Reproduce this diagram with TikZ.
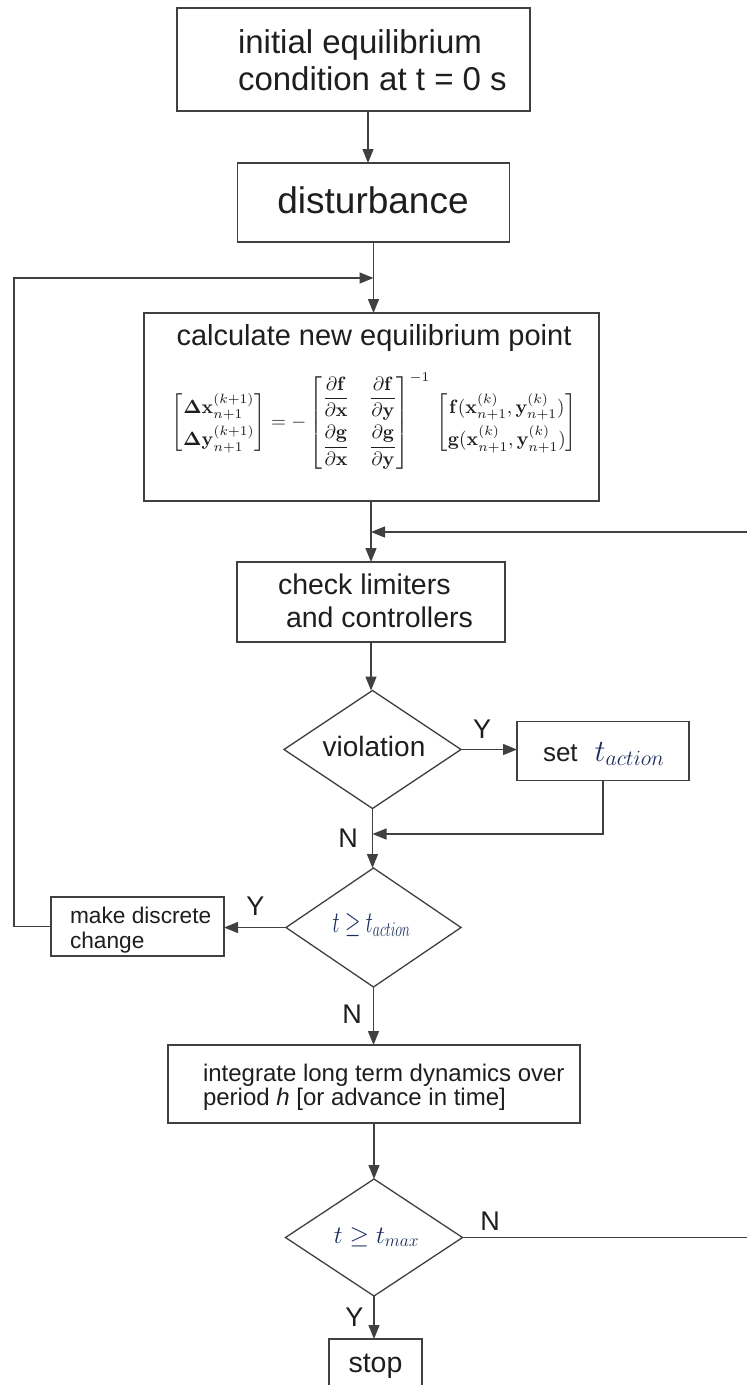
\documentclass[tikz,border=0pt]{standalone}
\usepackage{fix-cm}
\usepackage{amsmath}
\usepackage{graphicx}
\usepackage[no-math]{fontspec}
\setmainfont{Liberation Sans}
\usetikzlibrary{shapes.geometric,arrows.meta}
\definecolor{linec}{RGB}{64,64,64}
\definecolor{txtc}{RGB}{30,30,30}
\definecolor{mathc}{RGB}{25,45,95}
\begin{document}
\begin{tikzpicture}[x=1pt,y=-1pt,
  box/.style={draw=linec,line width=1.3pt,inner sep=0pt,outer sep=0pt},
  dia/.style={draw=linec,line width=1.3pt,diamond,aspect=1.5,inner sep=0pt,outer sep=0pt},
  conn/.style={draw=linec,line width=1.3pt},
  arr/.style={conn,-{Triangle[length=14pt,width=11pt]}},
  txt/.style={text=txtc,inner sep=0pt,outer sep=0pt},
  yn/.style={txt,anchor=base,font=\fontsize{27}{30}\selectfont}
]
\fill[white] (0,0) rectangle (747,1385);
\useasboundingbox (0,0) rectangle (747,1385);

% coordinates
\coordinate (s1) at (368,0);
\coordinate (lx) at (14,0);
\coordinate (rx) at (748,0);
\coordinate (j1) at (373.5,278);
\coordinate (j2) at (371,532);
\coordinate (j3) at (372.5,834);

% boxes
\node[box,minimum width=353pt,minimum height=103pt] (b1) at (353.5,59.5) {};
\node[box,minimum width=272pt,minimum height=79pt] (b2) at (373.5,202.5) {};
\node[box,minimum width=455pt,minimum height=188pt] (calc) at (371.5,407) {};
\node[box,minimum width=268pt,minimum height=80pt] (check) at (371,602) {};
\node[dia,minimum width=177pt,minimum height=118pt] (viol) at (372.5,749.5) {};
\node[box,minimum width=172pt,minimum height=59pt] (set) at (603,751) {};
\node[dia,minimum width=175pt,minimum height=119pt] (d2) at (373.5,927.5) {};
\node[box,minimum width=173pt,minimum height=59pt] (make) at (137.5,926.5) {};
\node[box,minimum width=412pt,minimum height=78pt] (integ) at (374,1084) {};
\node[dia,minimum width=177pt,minimum height=117pt] (d3) at (374,1237.5) {};
\node[box,minimum width=93pt,minimum height=61pt] (stop) at (375.5,1369.5) {};

% texts
\node[txt,anchor=north west,align=left,font=\fontsize{33}{37}\selectfont] (t1) at (238,29.2) {initial equilibrium\\condition at t = 0 s};
\node[txt,anchor=base,font=\fontsize{37}{40}\selectfont] (t2) at (373,213) {disturbance};
\node[txt,anchor=base,font=\fontsize{29}{32}\selectfont] (t3) at (374,345) {calculate new equilibrium point};
\node[txt] (eq) at (374.5,421) {\resizebox{405pt}{!}{$\displaystyle
\begin{bmatrix}\mathbf{\Delta x}^{(k+1)}_{n+1}\\[3pt] \mathbf{\Delta y}^{(k+1)}_{n+1}\end{bmatrix}
= -\begin{bmatrix}\dfrac{\partial\mathbf{f}}{\partial\mathbf{x}} & \dfrac{\partial\mathbf{f}}{\partial\mathbf{y}}\\[8pt] \dfrac{\partial\mathbf{g}}{\partial\mathbf{x}} & \dfrac{\partial\mathbf{g}}{\partial\mathbf{y}}\end{bmatrix}^{-1}\,
\begin{bmatrix}\mathbf{f}(\mathbf{x}^{(k)}_{n+1},\mathbf{y}^{(k)}_{n+1})\\[3pt] \mathbf{g}(\mathbf{x}^{(k)}_{n+1},\mathbf{y}^{(k)}_{n+1})\end{bmatrix}$}};
\node[txt,anchor=north west,align=left,font=\fontsize{28.5}{33}\selectfont] (t4) at (278,573.5) {check limiters\\\hspace*{8pt}and controllers};
\node[txt,anchor=base,font=\fontsize{28}{30}\selectfont] (t5) at (374,756) {violation};
\node[txt,anchor=base west,font=\fontsize{26}{30}\selectfont] (t6) at (543,761) {set\hspace{17pt}{\color{mathc}\fontsize{31}{31}\selectfont$t_{action}$}};
\node[txt,anchor=base,text=mathc] (t7) at (371.5,932) {\scalebox{0.66}[1]{\fontsize{30}{30}\selectfont$t\geq t_{action}$}};
\node[txt,anchor=north west,align=left,font=\fontsize{22.7}{25}\selectfont] (t8) at (70,906.7) {make discrete\\change};
\node[txt,anchor=north west,align=left,font=\fontsize{24}{24.5}\selectfont] (t9) at (203,1063.7) {integrate long term dynamics over\\period \textit{h} [or advance in time]};
\node[txt,anchor=base,text=mathc,font=\fontsize{25}{25}\selectfont] (t10) at (376.5,1243) {$t\geq t_{max}$};
\node[txt,anchor=base,font=\fontsize{28.5}{30}\selectfont] (t11) at (375.5,1372) {stop};

% Y/N labels
\node[yn] (y1) at (482,738) {Y};
\node[yn] (n1) at (348,847) {N};
\node[yn] (y2) at (255.5,915) {Y};
\node[yn] (n2) at (352,1023) {N};
\node[yn] (n3) at (490,1230) {N};
\node[yn] (y3) at (354.5,1326) {Y};

% connectors
\draw[arr] (b1.south -| s1) -- (b2.north -| s1);
\draw[arr] (b2.south) -- (b2.south |- calc.north);
\draw[arr] (make.west) -- (make.west -| lx) |- (j1);
\draw[arr] (calc.south -| check.north) -- (check.north);
\draw[arr] (d3.east) -- (d3.east -| rx) |- (j2);
\draw[arr] (check.south) -- (check.south |- viol.north);
\draw[arr] (viol.east) -- (viol.east -| set.west);
\draw[arr] (set.south) |- (j3);
\draw[arr] (viol.south) -- (viol.south |- d2.north);
\draw[arr] (d2.west) -- (d2.west -| make.east);
\draw[arr] (d2.south) -- (d2.south |- integ.north);
\draw[arr] (integ.south -| d3.north) -- (d3.north);
\draw[arr] (d3.south) -- (d3.south |- stop.north);
\end{tikzpicture}
\end{document}
